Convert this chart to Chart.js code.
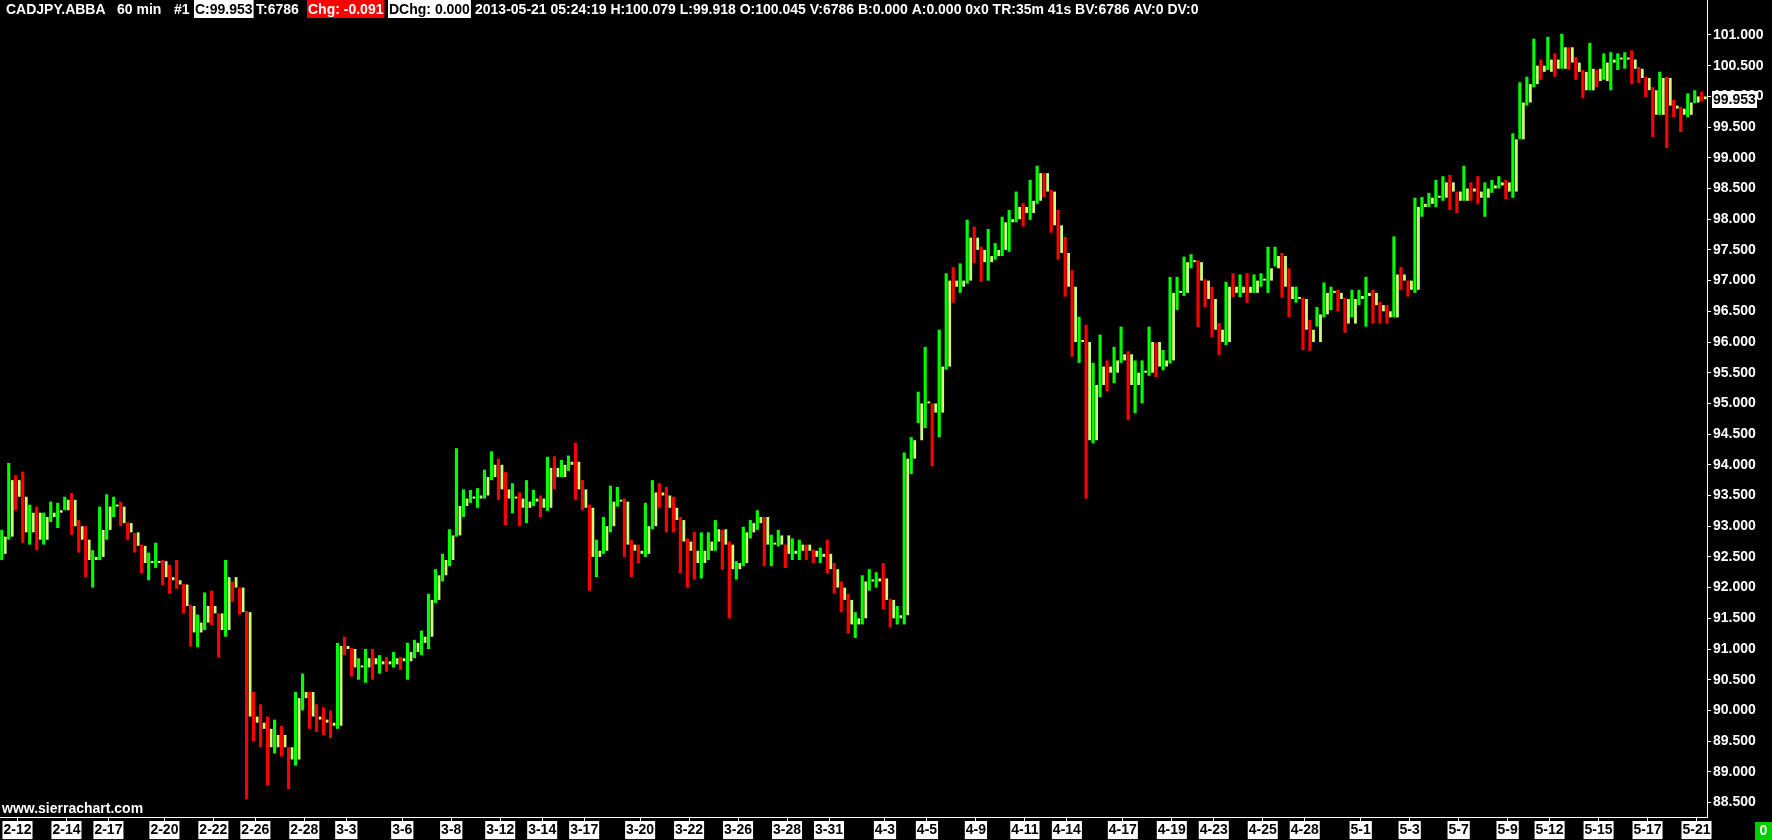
<!DOCTYPE html>
<html>
<head>
<meta charset="utf-8">
<script src="https://cdn.jsdelivr.net/npm/chart.js@4/dist/chart.umd.min.js"></script>
<style>
  html, body { margin: 0; padding: 0; background: #000; overflow: hidden; }
  canvas { display: block; }
</style>
</head>
<body>
<canvas id="CADJPYChart" width="1772" height="840"></canvas>
<script>
// CADJPY 60 min, each slot groups a few hourly bars (high / low / close)
var highs = [
  92.94, 94.03, 93.83, 93.89, 93.35, 93.32, 93.22, 93.40, 93.38, 93.48,
  93.54, 93.10, 93.00, 92.61, 93.32, 93.52, 93.48, 93.40, 93.06, 92.89,
  92.70, 92.57, 92.73, 92.45, 92.37, 92.45, 92.06, 91.72, 91.56, 91.92,
  91.95, 91.58, 92.45, 92.10, 92.00, 91.62, 90.30, 90.10, 89.90, 89.85,
  89.75, 89.40, 90.30, 90.60, 90.30, 90.10, 90.05, 90.00, 91.10, 91.20,
  91.02, 90.85, 91.00, 91.00, 90.90, 90.87, 90.95, 90.87, 91.10, 91.15,
  91.30, 91.90, 92.30, 92.55, 92.95, 94.27, 93.60, 93.59, 93.62, 93.92,
  94.22, 94.10, 93.88, 93.70, 93.55, 93.75, 93.59, 93.50, 94.13, 94.14,
  94.08, 94.15, 94.36, 93.75, 93.35, 92.78, 93.15, 93.66, 93.64, 93.45,
  92.78, 92.70, 93.38, 93.75, 93.70, 93.64, 93.48, 93.15, 92.80, 92.91,
  92.90, 92.90, 93.10, 92.94, 92.75, 92.43, 92.99, 93.10, 93.26, 93.15,
  92.86, 92.94, 92.70, 92.80, 92.78, 92.70, 92.62, 92.65, 92.78, 92.40,
  92.10, 91.90, 91.60, 92.20, 92.30, 92.25, 92.40, 91.82, 91.70, 94.20,
  94.45, 95.19, 95.92, 95.00, 96.20, 97.12, 97.22, 97.28, 97.99, 97.88,
  97.55, 97.84, 97.61, 98.04, 98.15, 98.45, 98.26, 98.64, 98.87, 98.75,
  98.48, 98.15, 97.71, 97.17, 96.41, 96.28, 95.66, 96.12, 95.70, 95.92,
  96.25, 95.85, 95.70, 95.70, 96.25, 95.99, 95.87, 97.06, 97.06, 97.39,
  97.43, 97.33, 97.02, 96.90, 96.31, 96.98, 97.12, 97.10, 97.12, 97.10,
  97.12, 97.55, 97.55, 97.45, 97.20, 96.90, 96.72, 96.36, 96.57, 96.97,
  96.90, 96.85, 96.72, 96.85, 96.85, 97.06, 96.85, 96.65, 96.60, 97.72,
  97.22, 97.00, 98.35, 98.36, 98.43, 98.64, 98.70, 98.72, 98.45, 98.87,
  98.60, 98.70, 98.60, 98.64, 98.70, 98.64, 99.40, 100.23, 100.32, 100.94,
  100.60, 100.97, 100.70, 101.02, 100.80, 100.64, 100.43, 100.87, 100.43, 100.70,
  100.72, 100.70, 100.72, 100.75, 100.48, 100.32, 100.15, 100.40, 100.32, 99.94,
  99.83, 100.05, 100.10, 100.08
];
var lows = [
  92.45, 92.78, 93.26, 92.73, 92.70, 92.61, 92.70, 93.07, 92.97, 93.26,
  92.86, 92.57, 92.17, 92.00, 92.45, 92.78, 93.15, 93.00, 92.78, 92.57,
  92.23, 92.12, 92.32, 92.04, 91.90, 91.98, 91.58, 91.04, 91.03, 91.31,
  91.39, 90.86, 91.20, 91.77, 91.56, 88.55, 89.50, 89.40, 88.78, 89.30,
  89.25, 88.72, 89.10, 90.00, 89.70, 89.65, 89.60, 89.55, 89.70, 90.90,
  90.55, 90.50, 90.45, 90.50, 90.60, 90.63, 90.70, 90.66, 90.50, 90.85,
  90.90, 91.00, 91.75, 92.10, 92.35, 92.83, 93.15, 93.38, 93.30, 93.45,
  93.75, 93.43, 93.02, 93.21, 93.00, 93.05, 93.33, 93.15, 93.25, 93.60,
  93.80, 93.90, 93.43, 93.26, 91.95, 92.17, 92.55, 92.90, 93.32, 92.50,
  92.17, 92.40, 92.50, 92.95, 93.30, 92.90, 92.90, 92.23, 92.00, 92.13,
  92.15, 92.45, 92.60, 92.29, 91.50, 92.13, 92.35, 92.80, 92.94, 92.35,
  92.35, 92.67, 92.32, 92.45, 92.45, 92.45, 92.40, 92.40, 92.23, 91.90,
  91.60, 91.25, 91.18, 91.40, 91.95, 92.00, 91.65, 91.35, 91.40, 91.40,
  93.85, 94.68, 94.60, 93.98, 94.45, 95.55, 96.64, 96.80, 96.95, 97.28,
  96.98, 97.00, 97.34, 97.40, 97.47, 97.95, 97.88, 97.99, 98.25, 98.36,
  97.78, 97.34, 96.74, 95.76, 95.66, 93.45, 94.35, 95.10, 95.20, 95.33,
  95.66, 94.73, 94.84, 95.00, 95.45, 95.43, 95.54, 95.65, 96.52, 96.75,
  97.20, 96.24, 96.57, 96.08, 95.79, 95.95, 96.73, 96.73, 96.64, 96.80,
  96.90, 96.80, 97.23, 96.72, 96.40, 96.64, 95.87, 95.86, 96.25, 96.40,
  96.52, 96.50, 96.15, 96.40, 96.60, 96.25, 96.30, 96.30, 96.30, 96.40,
  96.85, 96.74, 96.80, 98.04, 98.20, 98.20, 98.30, 98.15, 98.10, 98.30,
  98.30, 98.25, 98.04, 98.43, 98.50, 98.33, 98.35, 99.30, 99.85, 100.15,
  100.27, 100.43, 100.32, 100.45, 100.43, 100.27, 99.97, 100.10, 100.15, 100.27,
  100.10, 100.43, 100.45, 100.20, 100.22, 99.99, 99.34, 99.70, 99.16, 99.66,
  99.42, 99.66, 99.89, 99.92
];
var closes = [
  92.83, 93.75, 93.48, 92.90, 93.22, 92.78, 93.15, 93.22, 93.26, 93.43,
  93.00, 92.78, 92.45, 92.50, 92.94, 93.32, 93.32, 93.05, 92.90, 92.68,
  92.40, 92.40, 92.43, 92.17, 92.12, 92.05, 91.70, 91.27, 91.43, 91.70,
  91.58, 91.31, 92.17, 92.00, 91.60, 89.90, 89.80, 89.70, 89.40, 89.60,
  89.40, 89.20, 90.20, 90.30, 89.90, 89.85, 89.80, 89.75, 91.05, 91.00,
  90.70, 90.70, 90.85, 90.75, 90.80, 90.75, 90.85, 90.80, 90.95, 91.10,
  91.20, 91.80, 92.20, 92.45, 92.85, 93.33, 93.45, 93.45, 93.50, 93.80,
  94.00, 93.60, 93.45, 93.45, 93.30, 93.40, 93.45, 93.30, 93.95, 93.80,
  94.00, 94.05, 93.60, 93.30, 92.50, 92.60, 93.00, 93.40, 93.40, 92.70,
  92.60, 92.55, 93.00, 93.55, 93.50, 93.30, 93.10, 92.75, 92.60, 92.40,
  92.60, 92.75, 92.95, 92.70, 92.30, 92.40, 92.90, 93.05, 93.15, 92.70,
  92.70, 92.85, 92.55, 92.60, 92.70, 92.60, 92.50, 92.55, 92.30, 92.00,
  91.80, 91.40, 91.50, 92.10, 92.10, 92.15, 91.80, 91.50, 91.55, 94.10,
  94.40, 95.00, 95.00, 94.85, 95.60, 97.00, 96.90, 97.00, 97.70, 97.50,
  97.30, 97.40, 97.50, 97.95, 98.00, 98.20, 98.10, 98.30, 98.75, 98.45,
  97.90, 97.45, 96.90, 96.00, 96.00, 94.40, 95.30, 95.60, 95.50, 95.70,
  95.80, 95.30, 95.50, 95.50, 96.00, 95.60, 95.70, 96.80, 96.80, 97.30,
  97.30, 97.00, 96.70, 96.20, 96.00, 96.90, 96.80, 96.90, 96.80, 97.00,
  97.00, 97.20, 97.40, 96.90, 96.70, 96.70, 96.20, 96.00, 96.45, 96.80,
  96.80, 96.70, 96.30, 96.70, 96.75, 96.80, 96.60, 96.50, 96.40, 97.10,
  97.00, 96.85, 98.20, 98.25, 98.35, 98.35, 98.60, 98.45, 98.30, 98.50,
  98.45, 98.35, 98.50, 98.55, 98.60, 98.45, 99.30, 99.90, 100.20, 100.50,
  100.40, 100.60, 100.45, 100.80, 100.55, 100.40, 100.10, 100.45, 100.25, 100.55,
  100.60, 100.60, 100.60, 100.45, 100.30, 100.10, 99.70, 100.30, 99.85, 99.80,
  99.70, 99.90, 100.00, 99.953
];
var firstOpen = 92.55;

var dateLabels = ['2-12', '2-14', '2-17', '2-20', '2-22', '2-26', '2-28', '3-3', '3-6', '3-8',
  '3-12', '3-14', '3-17', '3-20', '3-22', '3-26', '3-28', '3-31', '4-3', '4-5', '4-9', '4-11',
  '4-14', '4-17', '4-19', '4-23', '4-25', '4-28', '5-1', '5-3', '5-7', '5-9', '5-12', '5-15',
  '5-17', '5-21'];
var dateSlots = [2, 9, 15, 23, 30, 36, 43, 49, 57, 64, 71, 77, 83, 91, 98, 105, 112, 118, 126,
  132, 139, 146, 152, 160, 167, 173, 180, 186, 194, 201, 208, 215, 221, 228, 235, 242];

var priceTicks = [88.5, 89, 89.5, 90, 90.5, 91, 91.5, 92, 92.5, 93, 93.5, 94, 94.5, 95, 95.5,
  96, 96.5, 97, 97.5, 98, 98.5, 99, 99.5, 100, 100.5, 101];
var yMin = 88.264, yMax = 101.57;
var lastPrice = 99.953;

var FONT = '"Liberation Sans", Arial, sans-serif';

// build what the library needs
var slotLabels = closes.map(function () { return ''; });
dateSlots.forEach(function (s, k) { slotLabels[s] = dateLabels[k]; });
var opens = closes.map(function (c, i) { return i === 0 ? firstOpen : closes[i - 1]; });
var wickColors = closes.map(function (c, i) { return c >= opens[i] ? '#00ff00' : '#ff0000'; });

var overlay = {
  id: 'overlay',
  beforeDraw: function (chart) {
    var c = chart.ctx;
    c.save();
    c.fillStyle = '#000';
    c.fillRect(0, 0, chart.width, chart.height);
    c.restore();
  },
  afterDraw: function (chart) {
    var c = chart.ctx;
    c.save();
    c.font = 'bold 14px ' + FONT;
    c.textBaseline = 'alphabetic';
    c.textAlign = 'left';
    var parts = [
      { x: 6, text: 'CADJPY.ABBA', fg: '#fff' },
      { x: 117, text: '60 min', fg: '#fff' },
      { x: 174, text: '#1', fg: '#fff' },
      { x: 195, text: 'C:99.953', fg: '#000', bg: '#fff' },
      { x: 256, text: 'T:6786', fg: '#fff' },
      { x: 308, text: 'Chg: -0.091', fg: '#fff', bg: '#ff0000' },
      { x: 389, text: 'DChg: 0.000', fg: '#000', bg: '#fff' },
      { x: 475, text: '2013-05-21 05:24:19 H:100.079 L:99.918 O:100.045 V:6786 B:0.000 A:0.000 0x0 TR:35m 41s BV:6786 AV:0 DV:0', fg: '#fff' }
    ];
    parts.forEach(function (p) {
      var w = c.measureText(p.text).width;
      if (p.bg) {
        c.fillStyle = p.bg;
        c.fillRect(p.x - 1, 0, w + 2, 18);
      }
      c.fillStyle = p.fg;
      c.fillText(p.text, p.x, 14);
    });

    // watermark
    c.fillStyle = '#fff';
    c.fillText('www.sierrachart.com', 2, 813);

    // last price marker on the price scale
    var y = chart.scales.y.getPixelForValue(lastPrice);
    c.fillStyle = '#fff';
    c.fillRect(1712, Math.round(y) - 8, 45, 17);
    c.fillStyle = '#000';
    c.textBaseline = 'middle';
    c.fillText(lastPrice.toFixed(3), 1713, y + 1);

    // green box bottom right
    c.fillStyle = '#00cc00';
    c.fillRect(1755, 822, 17, 18);
    c.fillStyle = '#fff';
    c.textAlign = 'center';
    c.fillText('0', 1763.5, 831);
    c.restore();
  }
};

var ctx1 = document.getElementById('CADJPYChart').getContext('2d');
var CADJPYChart = new Chart(ctx1, {
  type: 'bar',
  data: {
    labels: slotLabels,
    datasets: [{
      label: 'High-Low',
      data: highs.map(function (h, i) { return [lows[i], h]; }),
      backgroundColor: wickColors,
      borderWidth: 0,
      categoryPercentage: 1,
      barPercentage: 0.9
    }, {
      label: 'Open-Close',
      data: closes.map(function (c, i) { return [opens[i], c]; }),
      backgroundColor: '#ccff77',
      borderWidth: 0,
      minBarLength: 2,
      categoryPercentage: 1,
      barPercentage: 0.8
    }]
  },
  options: {
    responsive: false,
    animation: false,
    devicePixelRatio: 1,
    layout: { padding: 0 },
    plugins: {
      legend: { display: false },
      tooltip: { enabled: false }
    },
    scales: {
      x: {
        type: 'category',
        offset: true,
        border: { color: '#fff', width: 1 },
        grid: {
          offset: false,
          drawOnChartArea: false,
          tickLength: 4,
          color: function (ctx) { return slotLabels[ctx.index] ? '#fff' : 'rgba(0,0,0,0)'; }
        },
        ticks: {
          autoSkip: false,
          maxRotation: 0,
          minRotation: 0,
          padding: 1,
          color: '#000',
          font: { family: FONT, size: 14, weight: 'bold', lineHeight: 1.15 },
          showLabelBackdrop: function (ctx) { return !!slotLabels[ctx.index]; },
          backdropColor: '#fff',
          backdropPadding: { left: 1, right: 1, top: 1, bottom: 1 }
        },
        afterFit: function (scale) {
          scale.height = 23;
          scale.paddingLeft = 0;
          scale.paddingRight = 0;
        }
      },
      y: {
        type: 'linear',
        position: 'right',
        min: yMin,
        max: yMax,
        border: { color: '#fff', width: 1 },
        grid: { drawOnChartArea: false, tickLength: 4, color: '#fff' },
        afterBuildTicks: function (scale) {
          scale.ticks = priceTicks.map(function (v) { return { value: v }; });
        },
        ticks: {
          color: '#fff',
          padding: 2,
          font: { family: FONT, size: 14, weight: 'bold' },
          callback: function (v) { return Number(v).toFixed(3); }
        },
        afterFit: function (scale) {
          scale.width = 65;
          scale.paddingTop = 0;
          scale.paddingBottom = 0;
        }
      }
    }
  },
  plugins: [overlay]
});
</script>
</body>
</html>
